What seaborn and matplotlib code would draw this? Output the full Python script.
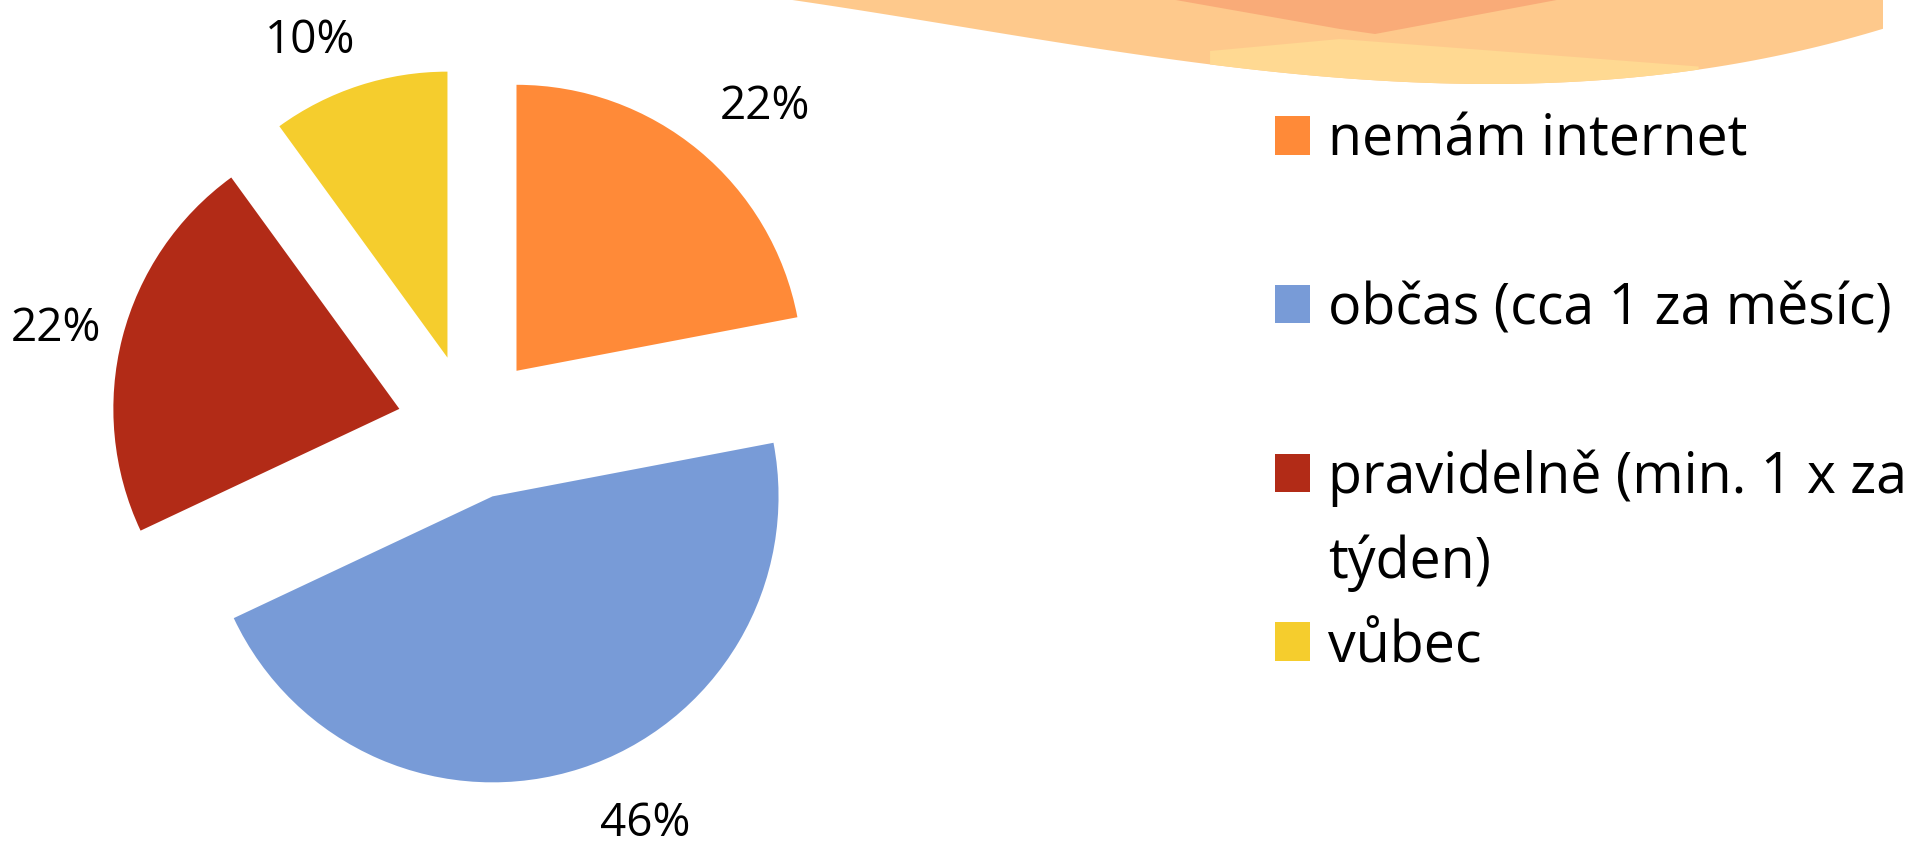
import numpy as np
import matplotlib.pyplot as plt
from matplotlib.patches import Patch
import seaborn as sns

# data
categories = ["nemám internet", "občas (cca 1 za měsíc)",
              "pravidelně (min. 1 x za\ntýden)", "vůbec"]
shares = [22, 46, 22, 10]
colors = ["#FF8A38", "#789BD7", "#B22B17", "#F5CD2D"]

# label placement tweaks (degrees off the wedge middle, distance in radii)
label_turn = [-3.6, 7.0, 1.2, 5.4]
label_dist = [1.27, 1.26, 1.235, 1.21]

sns.set_theme(style="white")
plt.rcParams["font.family"] = ["Open Sans", "DejaVu Sans"]

W, H = 1910, 853
fig = plt.figure(figsize=(W / 100, H / 100), dpi=100)
ax = fig.add_axes([0, 0, 1, 1])

# decorative wave in the top right corner (slide background), pixel coords, y down
kx = [786, 974, 1218, 1340, 1462, 1522, 1600, 1705, 1800, 1883]
ky = [0, 30, 67, 77, 85, 86, 82, 68, 52, 30]
coef = np.polyfit(kx, ky, 4)
bx = np.linspace(786, 1883, 120)
by = np.clip(np.polyval(coef, bx), 0, None)
ax.fill(np.r_[bx, 1883, 786], H - np.r_[by, 0, 0], color="#FEC98C", lw=0, zorder=0)
# lighter band along the lower edge
m = (bx >= 1210) & (bx <= 1705)
top = np.interp(bx[m], [1210, 1340, 1705], [52, 40, 68])
ax.fill(np.r_[bx[m], bx[m][::-1]], H - np.r_[top, by[m][::-1]],
        color="#FFD992", lw=0, zorder=0)
# darker patch at the top
ax.fill([1170, 1340, 1375, 1562], [H - y for y in [0, 30, 35, 0]],
        color="#F9AB78", lw=0, zorder=0)

# exploded pie, clockwise from 12 o'clock
radius = 286
wedges, texts, autotexts = ax.pie(
    shares, colors=colors, startangle=90, counterclock=False,
    explode=[0.255 * radius] * len(shares), center=(470, H - 428), radius=radius,
    autopct="%1.0f%%", pctdistance=1.25,
    textprops=dict(fontsize=33, color="black"),
    wedgeprops=dict(linewidth=0))

# nudge the percentage labels round their wedges like the original
for w, t, turn, dist in zip(wedges, autotexts, label_turn, label_dist):
    ang = np.deg2rad((w.theta1 + w.theta2) / 2 + turn)
    cx, cy = w.center
    t.set_position((cx + dist * w.r * np.cos(ang), cy + dist * w.r * np.sin(ang)))

ax.set_xlim(0, W)
ax.set_ylim(0, H)
ax.axis("off")

# legend: spacer rows keep the even spacing of the original,
# the wrapped label gets its second line on its own row
spacer = Patch(facecolor="none", edgecolor="none")
handles = [Patch(facecolor=c, edgecolor="none") for c in colors]
first, second = categories[2].split("\n")
rows_h = [handles[0], spacer, handles[1], spacer, handles[2], spacer, handles[3]]
rows_l = [categories[0], " ", categories[1], " ", first, second, categories[3]]
fig.legend(rows_h, rows_l, loc="upper left", bbox_to_anchor=(1275 / W, 1 - 113 / H),
           frameon=False, fontsize=40, labelcolor="black",
           handlelength=0.63, handleheight=0.7,
           handletextpad=0.33, labelspacing=0.49, borderpad=0, borderaxespad=0)

plt.savefig("out.png", dpi=100)
